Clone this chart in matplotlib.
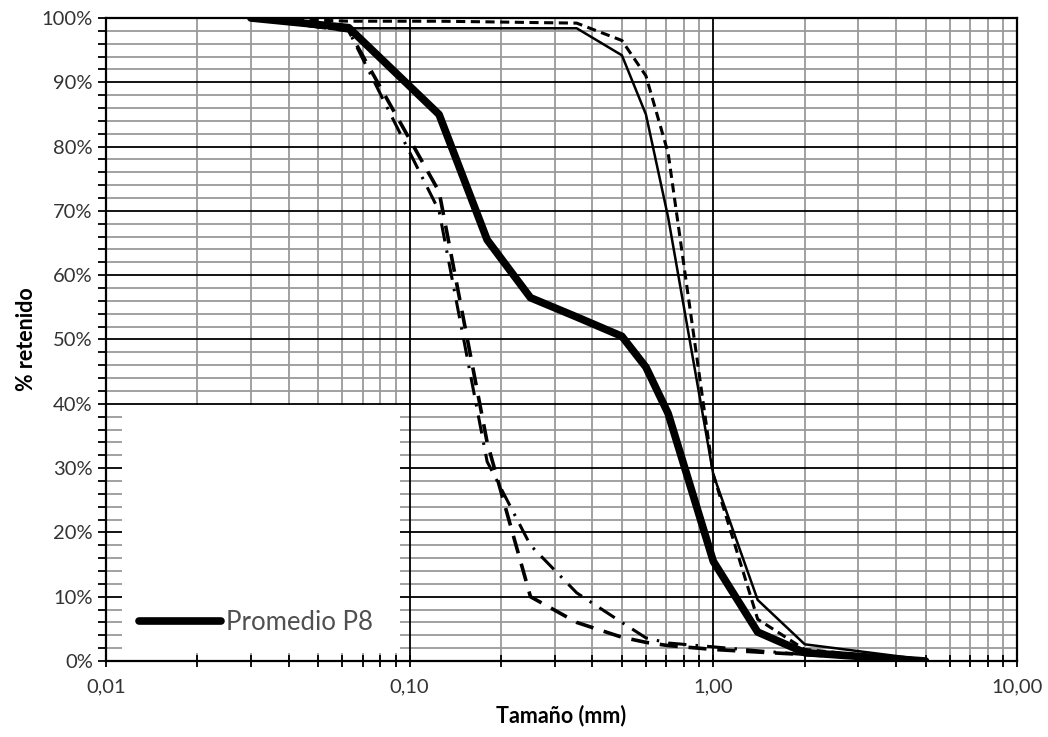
import matplotlib
matplotlib.use("Agg")
import matplotlib.pyplot as plt
from matplotlib.ticker import FixedLocator, FuncFormatter, MultipleLocator
from matplotlib.patches import Rectangle

# tamaños de tamiz (mm) y % retenido por curva
tamiz = [0.03, 0.063, 0.125, 0.18, 0.25, 0.355, 0.5, 0.6, 0.71, 1.0, 1.4, 2.0, 5.0]

promedio_p8 = [100, 98.5, 85, 65.5, 56.5, 53.5, 50.5, 45.7, 38.5, 15.5, 4.5, 1.3, 0]
curva_fina = [100, 98.4, 98.4, 98.4, 98.4, 98.4, 94.2, 85, 69, 29, 9.5, 2.6, 0.2]
curva_punteada = [100, 99.5, 99.5, 99.4, 99.3, 99.2, 96.5, 91, 79, 29, 6.5, 1.8, 0]
curva_guiones = [100, 98, 73, 34, 10, 6, 3.7, 2.9, 2.4, 1.8, 1.4, 1.0, 0]
curva_guion_punto = [100, 98, 70, 31, 18, 10.6, 6, 3.6, 2.8, 2.2, 1.6, 1.0, 0]

x_ticks = [0.01, 0.1, 1, 10]
x_labels = ["0,01", "0,10", "1,00", "10,00"]
y_ticks = list(range(0, 101, 10))

plt.rcParams['font.family'] = ['Lato', 'DejaVu Sans']

fig = plt.figure(figsize=(10.48, 7.37), dpi=100)
ax = fig.add_axes([0.1011, 0.1031, 0.8693, 0.8725])

ax.plot(tamiz, curva_fina, color='black', lw=1.8, zorder=4)
ax.plot(tamiz, curva_punteada, color='black', lw=2.2, linestyle=(0, (3, 1.8)), zorder=4)
ax.plot(tamiz, curva_guiones, color='black', lw=2.6, linestyle=(0, (5, 3)), zorder=4)
ax.plot(tamiz, curva_guion_punto, color='black', lw=2.2, linestyle=(0, (6, 3, 0.8, 3)), zorder=4)
linea_p8, = ax.plot(tamiz, promedio_p8, color='black', lw=5.5, solid_capstyle='round',
                    label='Promedio P8', zorder=5)

ax.set_xscale('log')
ax.set_xlim(0.01, 10)
ax.set_ylim(0, 100)

ax.xaxis.set_major_locator(FixedLocator(x_ticks))
ax.xaxis.set_major_formatter(FuncFormatter(lambda v, p: x_labels[x_ticks.index(v)] if v in x_ticks else ""))
ax.xaxis.set_minor_locator(FixedLocator([m * d for d in [0.01, 0.1, 1] for m in range(2, 10)]))
ax.xaxis.set_minor_formatter(FuncFormatter(lambda v, p: ""))

ax.yaxis.set_major_locator(FixedLocator(y_ticks))
ax.yaxis.set_minor_locator(MultipleLocator(2))
ax.yaxis.set_major_formatter(FuncFormatter(lambda v, p: "%d%%" % round(v)))

# rejilla secundaria gris, la principal negra por encima
ax.grid(which='minor', color='#9a9a9a', lw=1.3)
ax.set_axisbelow(True)
for v in x_ticks[1:-1]:
    ax.axvline(v, color='black', lw=1.3, zorder=1.5)
for v in y_ticks[1:-1]:
    ax.axhline(v, color='black', lw=1.3, zorder=1.5)

ax.tick_params(axis='y', which='both', direction='out', length=6, width=1.3,
               labelsize=14.5, colors='black', labelcolor='#333333')
ax.tick_params(axis='x', which='both', direction='inout', length=9, width=1.3,
               labelsize=14.5, pad=8, labelcolor='#333333')
for s in ax.spines.values():
    s.set_linewidth(1.6)

ax.set_xlabel('Tamaño (mm)', fontsize=15.5, fontweight='bold', labelpad=7)
ax.set_ylabel('% retenido', fontsize=15.5, fontweight='bold', labelpad=3)

# recuadro blanco de la leyenda
ax.add_patch(Rectangle((0.0176, 0.0124), 0.305, 0.386, transform=ax.transAxes,
                       facecolor='white', edgecolor='none', zorder=3))
leg = ax.legend(handles=[linea_p8], loc='lower left', bbox_to_anchor=(0.025, 0.025),
                frameon=False, fontsize=18.5, handlelength=3.2, handletextpad=0.2,
                borderaxespad=0.0)
leg.set_zorder(6)
for t in leg.get_texts():
    t.set_color('#505050')

fig.savefig('out.png', dpi=100)
